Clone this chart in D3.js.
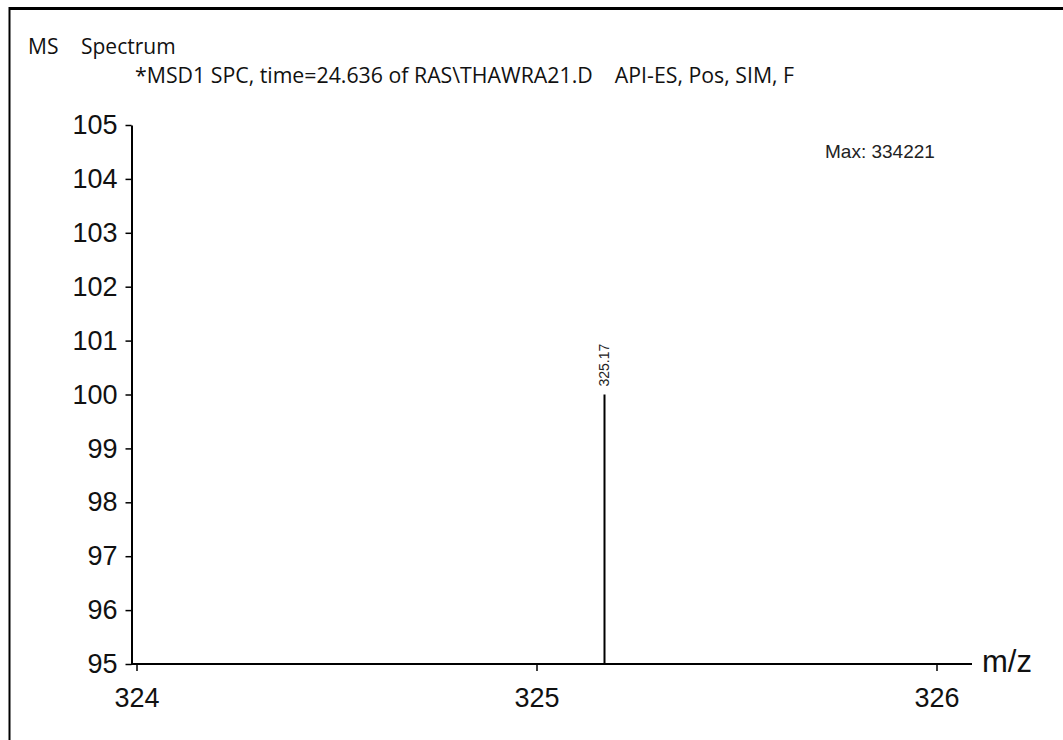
<!DOCTYPE html>
<html>
<head>
<meta charset="utf-8">
<script src="https://cdn.jsdelivr.net/npm/d3@7"></script>
<style>
  body { margin: 0; background: #fff; }
  svg { display: block; }
</style>
</head>
<body>
<div class="container"></div>
<script>
//=================================================
// Data
//=================================================
var peakMz = [325.17];
var peakAbund = [100];
var peakLabels = ["325.17"];
var yTicks = [95, 96, 97, 98, 99, 100, 101, 102, 103, 104, 105];
var xTicks = [324, 325, 326];
var titleWords = ["MS", "Spectrum"];
var subText = "*MSD1 SPC, time=24.636 of RAS\\THAWRA21.D    API-ES, Pos, SIM, F";
var maxText = "Max: 334221";

var width = 1063,
  height = 740;

//=================================================
// Scales
//=================================================
var xScale = d3.scaleLinear().domain([324, 326]).range([136.5, 936.5]);
var yScale = d3.scaleLinear().domain([95, 105]).range([664, 125]);

const svg = d3.select(".container").
append("svg").
attr("width", width).
attr("height", height);

// frame
svg.append("line").attr("x1", 9).attr("x2", width).attr("y1", 8.5).attr("y2", 8.5).
attr("stroke", "#000").attr("stroke-width", 3);
svg.append("line").attr("x1", 9.5).attr("x2", 9.5).attr("y1", 7).attr("y2", height).
attr("stroke", "#000").attr("stroke-width", 2);

// titles
const title = svg.append("text").attr("y", 54).
style("font-family", "'Open Sans', sans-serif").style("font-size", "21px").
attr("fill", "#111");
title.append("tspan").attr("x", 28).text(titleWords[0]);
title.append("tspan").attr("x", 81).text(titleWords[1]);

svg.append("text").attr("x", 135).attr("y", 83).
style("font-family", "'Open Sans', sans-serif").style("font-size", "21.3px").
attr("fill", "#111").attr("xml:space", "preserve").text(subText);

svg.append("text").attr("x", 825).attr("y", 158).
style("font-family", "'Liberation Sans', Arial, sans-serif").style("font-size", "19px").
attr("fill", "#222").text(maxText);

//=================================================
// Axes
//=================================================
const yAxis = d3.axisLeft(yScale).tickValues(yTicks).tickSize(6).tickPadding(8).tickSizeOuter(0);
const gy = svg.append("g").attr("transform", "translate(131.5,0)").call(yAxis);
gy.select(".domain").attr("stroke-width", 2);
gy.selectAll(".tick line").attr("stroke-width", 1.5);
gy.selectAll(".tick text").
style("font-family", "'Liberation Sans', Arial, sans-serif").style("font-size", "27px").
attr("fill", "#111");

const xAxis = d3.axisBottom(xScale).tickValues(xTicks).tickFormat(d3.format("d")).
tickSize(7).tickPadding(17).tickSizeOuter(0);
const gx = svg.append("g").attr("transform", "translate(0,664)").call(xAxis);
gx.select(".domain").attr("d", "M131,0H972").attr("stroke-width", 2);
gx.selectAll(".tick line").attr("stroke-width", 1.5);
gx.selectAll(".tick text").
style("font-family", "'Liberation Sans', Arial, sans-serif").style("font-size", "27px").
attr("fill", "#111");

svg.append("text").attr("x", 982).attr("y", 672).
style("font-family", "'Liberation Sans', Arial, sans-serif").style("font-size", "31px").
attr("fill", "#111").text("m/z");

//=================================================
// Peaks
//=================================================
svg.selectAll("line.peak").
data(peakMz).
enter().
append("line").
attr("class", "peak").
attr("x1", d => xScale(d)).
attr("x2", d => xScale(d)).
attr("y1", yScale(95)).
attr("y2", (d, i) => yScale(peakAbund[i])).
attr("stroke", "#000").
attr("stroke-width", 2);

svg.selectAll("text.plabel").
data(peakMz).
enter().
append("text").
attr("class", "plabel").
attr("transform", (d, i) => "translate(" + (xScale(d) + 4) + "," + (yScale(peakAbund[i]) - 8) + ") rotate(-90)").
style("font-family", "'Liberation Sans', Arial, sans-serif").style("font-size", "14px").
attr("fill", "#222").
text((d, i) => peakLabels[i]);
</script>
</body>
</html>
